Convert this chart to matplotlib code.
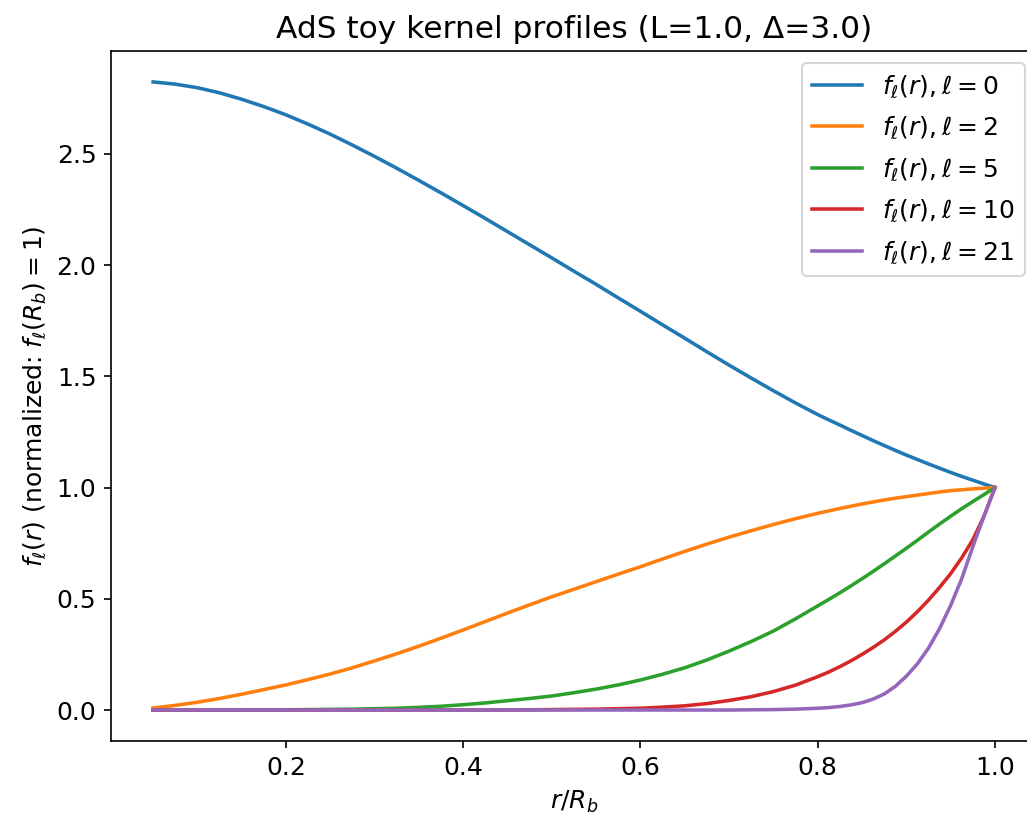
import matplotlib
matplotlib.use("Agg")
import matplotlib.pyplot as plt

plt.rcParams["font.size"] = 12

# radial coordinate r / R_b
r = [0.05, 0.075, 0.10, 0.125, 0.15, 0.175, 0.20, 0.225, 0.25, 0.275,
     0.30, 0.325, 0.35, 0.375, 0.40, 0.425, 0.45, 0.475, 0.50, 0.525,
     0.55, 0.575, 0.60, 0.625, 0.65, 0.675, 0.70, 0.725, 0.75, 0.775,
     0.80, 0.8125, 0.825, 0.8375, 0.85, 0.8625, 0.875, 0.8875, 0.90, 0.9125,
     0.925, 0.9375, 0.95, 0.9625, 0.975, 0.9875, 1.00]

# normalized kernel profiles f_l(r), with f_l(R_b) = 1
f_l0 = [2.823, 2.813, 2.797, 2.774, 2.745, 2.712, 2.675, 2.633, 2.588, 2.539,
        2.488, 2.435, 2.380, 2.324, 2.267, 2.209, 2.150, 2.091, 2.032, 1.972,
        1.913, 1.852, 1.792, 1.731, 1.671, 1.610, 1.550, 1.492, 1.435, 1.380,
        1.328, 1.304, 1.281, 1.257, 1.234, 1.211, 1.189, 1.167, 1.146, 1.126,
        1.106, 1.087, 1.068, 1.050, 1.033, 1.016, 1.000]
f_l2 = [0.009, 0.021, 0.035, 0.052, 0.071, 0.092, 0.113, 0.137, 0.162, 0.190,
        0.221, 0.253, 0.287, 0.323, 0.360, 0.398, 0.436, 0.473, 0.509, 0.543,
        0.577, 0.611, 0.644, 0.679, 0.713, 0.746, 0.777, 0.806, 0.834, 0.860,
        0.884, 0.895, 0.906, 0.916, 0.926, 0.935, 0.944, 0.952, 0.959, 0.966,
        0.973, 0.980, 0.986, 0.990, 0.994, 0.997, 1.000]
f_l5 = [0.000, 0.000, 0.000, 0.000, 0.000, 0.001, 0.001, 0.002, 0.003, 0.004,
        0.006, 0.008, 0.012, 0.017, 0.024, 0.032, 0.042, 0.052, 0.063, 0.078,
        0.094, 0.113, 0.135, 0.161, 0.190, 0.225, 0.265, 0.308, 0.355, 0.410,
        0.468, 0.497, 0.527, 0.558, 0.590, 0.623, 0.657, 0.692, 0.727, 0.763,
        0.800, 0.836, 0.871, 0.905, 0.937, 0.968, 1.000]
f_l10 = [0.000, 0.000, 0.000, 0.000, 0.000, 0.000, 0.000, 0.000, 0.000, 0.000,
         0.000, 0.000, 0.000, 0.000, 0.000, 0.000, 0.000, 0.001, 0.002, 0.003,
         0.004, 0.006, 0.008, 0.013, 0.019, 0.029, 0.043, 0.060, 0.083, 0.112,
         0.150, 0.171, 0.195, 0.221, 0.250, 0.281, 0.315, 0.353, 0.395, 0.442,
         0.494, 0.551, 0.613, 0.684, 0.765, 0.870, 1.000]
f_l21 = [0.000, 0.000, 0.000, 0.000, 0.000, 0.000, 0.000, 0.000, 0.000, 0.000,
         0.000, 0.000, 0.000, 0.000, 0.000, 0.000, 0.000, 0.000, 0.000, 0.000,
         0.000, 0.000, 0.000, 0.000, 0.000, 0.000, 0.000, 0.001, 0.002, 0.004,
         0.008, 0.011, 0.016, 0.023, 0.033, 0.049, 0.072, 0.106, 0.152, 0.208,
         0.278, 0.366, 0.470, 0.590, 0.734, 0.870, 1.000]

ells = [0, 2, 5, 10, 21]
profiles = [f_l0, f_l2, f_l5, f_l10, f_l21]

fig = plt.figure(figsize=(1027 / 150, 824 / 150), dpi=150)
ax = fig.add_axes([111 / 1027, 0.1002, 0.9017, 0.8385])

for ell, prof in zip(ells, profiles):
    ax.plot(r, prof, lw=1.7, label=rf"$f_\ell(r), \ell={ell}$")

ax.set_title("AdS toy kernel profiles (L=1.0, Δ=3.0)", fontsize=15)
ax.set_xlabel(r"$r/R_b$")
ax.set_ylabel(r"$f_\ell(r)$ (normalized: $f_\ell(R_b) = 1$)")
ax.legend(loc="upper right", labelspacing=0.6)

fig.savefig("out.png", dpi=150)
